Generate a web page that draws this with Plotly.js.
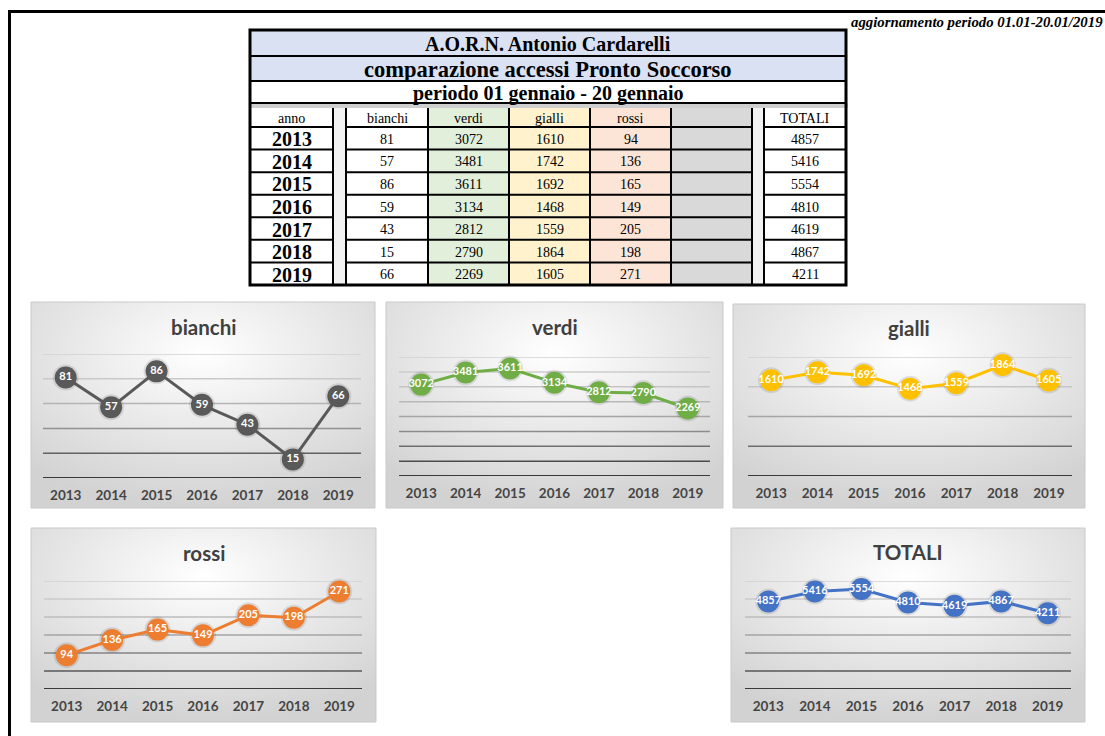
<!DOCTYPE html>
<html><head><meta charset="utf-8">
<script src="https://cdn.plot.ly/plotly-3.0.1.min.js"></script>
<style>html,body{margin:0;padding:0;background:#fff;}#chart{width:1105px;height:736px;}</style>
</head><body><div id="chart"></div>
<script>
// ---------- data ----------
const years   = ['2013','2014','2015','2016','2017','2018','2019'];
const bianchi = [81, 57, 86, 59, 43, 15, 66];
const verdi   = [3072, 3481, 3611, 3134, 2812, 2790, 2269];
const gialli  = [1610, 1742, 1692, 1468, 1559, 1864, 1605];
const rossi   = [94, 136, 165, 149, 205, 198, 271];
const totali  = [4857, 5416, 5554, 4810, 4619, 4867, 4211];
const tableHeaders = ['anno', '', 'bianchi', 'verdi', 'gialli', 'rossi', '', '', 'TOTALI'];
const titleLines = ['A.O.R.N. Antonio Cardarelli', 'comparazione accessi Pronto Soccorso', 'periodo 01 gennaio - 20 gennaio'];
const updateNote = 'aggiornamento periodo 01.01-20.01/2019';
const chartNames = ['bianchi', 'verdi', 'gialli', 'rossi', 'TOTALI'];

// ---------- page geometry helpers ----------
const W = 1105, H = 736;
const px = x => x / W;
const py = y => 1 - y / H;

const shapes = [], annotations = [], images = [], traces = [];
const layout = {
  width: W, height: H, margin: {l: 0, r: 0, t: 0, b: 0},
  paper_bgcolor: '#ffffff', plot_bgcolor: 'rgba(0,0,0,0)',
  showlegend: false, hovermode: false
};

// outer frame
shapes.push({type: 'line', xref: 'paper', yref: 'paper', x0: px(8), x1: px(1105), y0: py(11.5), y1: py(11.5), line: {color: '#000', width: 3}});
shapes.push({type: 'line', xref: 'paper', yref: 'paper', x0: px(9.5), x1: px(9.5), y0: py(10), y1: py(736), line: {color: '#000', width: 3}});

annotations.push({text: updateNote, xref: 'paper', yref: 'paper', x: px(1105), y: py(22), xanchor: 'right', yanchor: 'middle', showarrow: false,
  font: {family: 'Liberation Serif', size: 14.8, color: '#000', weight: 'bold', style: 'italic'}});

// ---------- table ----------
const colEdges = [250, 333, 346, 428, 509, 590, 671, 752, 764, 846];
const colFills = ['#ffffff', '#f2f2f2', '#ffffff', '#e2efda', '#fff2cc', '#fce4d6', '#d9d9d9', '#f2f2f2', '#ffffff'];
const narrowCols = [1, 7];
const tableCols = [years, null, bianchi, verdi, gialli, rossi, null, null, totali];
const tLeft = 250, tRight = 846, tTop = 30, tBottom = 285;
const titleEdges = [30, 56, 81, 103];
const titleFills = ['#d9e1f2', '#d9e1f2', '#ffffff'];
const titleSizes = [20, 22.5, 20];
const headTop = 108, headBottom = 127;
const rowH = (tBottom - headBottom) / years.length;

function rect(x0, y0, x1, y1, fill, line) {
  shapes.push({type: 'rect', xref: 'paper', yref: 'paper', x0: px(x0), x1: px(x1), y0: py(y1), y1: py(y0),
    fillcolor: fill, line: line || {width: 0}, layer: 'above'});
}
function hline(x0, x1, y, w, c) {
  shapes.push({type: 'line', xref: 'paper', yref: 'paper', x0: px(x0), x1: px(x1), y0: py(y), y1: py(y), line: {color: c || '#000', width: w}});
}
function vline(x, y0, y1, w) {
  shapes.push({type: 'line', xref: 'paper', yref: 'paper', x0: px(x), x1: px(x), y0: py(y0), y1: py(y1), line: {color: '#000', width: w}});
}

titleLines.forEach((t, i) => {
  rect(tLeft, titleEdges[i], tRight, titleEdges[i + 1], titleFills[i]);
  annotations.push({text: t, xref: 'paper', yref: 'paper', x: px((tLeft + tRight) / 2), y: py((titleEdges[i] + titleEdges[i + 1]) / 2 + 1),
    xanchor: 'center', yanchor: 'middle', showarrow: false,
    font: {family: 'Liberation Serif', size: titleSizes[i], color: '#000', weight: 'bold'}});
});
rect(tLeft, 103, tRight + 2, headTop, '#cfcfcf');
for (let c = 0; c < colFills.length; c++) rect(colEdges[c], headTop, colEdges[c + 1], tBottom, colFills[c]);
hline(tLeft, tRight, 56, 2); hline(tLeft, tRight, 81, 2); hline(tLeft, tRight, 103, 2);
const rowLines = [headBottom];
for (let r = 1; r < years.length; r++) rowLines.push(headBottom + r * rowH);
rowLines.forEach(y => {
  for (let c = 0; c < colFills.length; c++) {
    if (narrowCols.includes(c)) continue;
    hline(colEdges[c], colEdges[c + 1], y, 2);
  }
});
colEdges.slice(1, -1).forEach(x => vline(x, headTop, tBottom, 2));
rect(tLeft, tTop, tRight, tBottom, 'rgba(0,0,0,0)', {color: '#000', width: 3});

tableHeaders.forEach((h, c) => {
  if (!h) return;
  annotations.push({text: h, xref: 'paper', yref: 'paper', x: px((colEdges[c] + colEdges[c + 1]) / 2), y: py((headTop + headBottom) / 2 + 1),
    xanchor: 'center', yanchor: 'middle', showarrow: false, font: {family: 'Liberation Serif', size: 14, color: '#000'}});
});
tableCols.forEach((col, c) => {
  if (!col) return;
  col.forEach((v, r) => {
    const yc = headBottom + (r + 0.5) * rowH;
    annotations.push({text: String(v), xref: 'paper', yref: 'paper', x: px((colEdges[c] + colEdges[c + 1]) / 2), y: py(yc + 1),
      xanchor: 'center', yanchor: 'middle', showarrow: false,
      font: c === 0 ? {family: 'Liberation Serif', size: 20, color: '#000', weight: 'bold'}
                    : {family: 'Liberation Serif', size: 14, color: '#000'}});
  });
});

// ---------- charts ----------
const panelSvg = 'data:image/svg+xml;charset=utf-8,' + encodeURIComponent(
  "<svg xmlns='http://www.w3.org/2000/svg' width='100' height='100' viewBox='0 0 100 100' preserveAspectRatio='none'>" +
  "<defs><radialGradient id='g' cx='50%' cy='25%' r='75%'><stop offset='0' stop-color='#ffffff'/><stop offset='1' stop-color='#d2d2d2'/></radialGradient></defs>" +
  "<rect x='0' y='0' width='100' height='100' fill='url(#g)'/></svg>");

const chartSeries = [bianchi, verdi, gialli, rossi, totali];
const chartStyle = [
  {color: '#595959', dtick: 20,   max: 100,  plot: [43, 361, 354, 478],  panel: [31, 302, 375, 508],  titleY: 327},
  {color: '#70ad47', dtick: 500,  max: 4000, plot: [399, 710, 357, 476], panel: [386, 302, 723, 508], titleY: 327},
  {color: '#ffc000', dtick: 500,  max: 2000, plot: [748, 1072, 357, 476], panel: [733, 304, 1085, 508], titleY: 328},
  {color: '#ed7d31', dtick: 50,   max: 300,  plot: [44, 362, 581, 689],  panel: [31, 528, 376, 722],  titleY: 553},
  {color: '#4472c4', dtick: 1000, max: 6000, plot: [745, 1071, 581, 689], panel: [731, 528, 1085, 722], titleY: 552}
];

function mix(a, b, t) {
  const pa = [1, 3, 5].map(i => parseInt(a.substr(i, 2), 16));
  const pb = [1, 3, 5].map(i => parseInt(b.substr(i, 2), 16));
  return 'rgb(' + pa.map((v, i) => Math.round(v + (pb[i] - v) * t)).join(',') + ')';
}

chartNames.forEach((name, i) => {
  const s = chartStyle[i], vals = chartSeries[i];
  const n = i + 1, xa = 'x' + n, ya = 'y' + n;
  const [p0, p1, q0, q1] = s.plot;
  const [b0, c0, b1, c1] = s.panel;
  images.push({source: panelSvg, xref: 'paper', yref: 'paper', x: px(b0), y: py(c0), sizex: px(b1) - px(b0), sizey: (c1 - c0) / H,
    xanchor: 'left', yanchor: 'top', sizing: 'stretch', layer: 'below'});
  shapes.push({type: 'rect', xref: 'paper', yref: 'paper', x0: px(b0), x1: px(b1), y0: py(c1), y1: py(c0),
    line: {color: '#c9c9c9', width: 1}, fillcolor: 'rgba(0,0,0,0)', layer: 'below'});
  layout['xaxis' + (n === 1 ? '' : n)] = {domain: [px(p0), px(p1)], anchor: ya, type: 'category', range: [-0.5, years.length - 0.5],
    showgrid: false, zeroline: false, showline: false, ticks: 'outside', ticklen: 5, tickcolor: 'rgba(0,0,0,0)',
    tickfont: {family: 'Lato', size: 13.5, color: '#454545', weight: 'bold'}, fixedrange: true};
  layout['yaxis' + (n === 1 ? '' : n)] = {domain: [py(q1), py(q0)], anchor: xa, range: [0, s.max],
    showgrid: false, zeroline: false, showline: false, showticklabels: false, fixedrange: true};
  const nLines = Math.round(s.max / s.dtick);
  for (let k = 0; k <= nLines; k++) {
    const t = 1 - k / nLines;
    shapes.push({type: 'line', xref: xa + ' domain', yref: ya, x0: 0, x1: 1, y0: k * s.dtick, y1: k * s.dtick,
      line: {color: k === 0 ? '#3a3a3a' : mix('#d0d0d0', '#222222', t * t), width: k === 0 ? 2 : 1.5}, layer: 'below'});
  }
  annotations.push({text: name, xref: 'paper', yref: 'paper', x: px((b0 + b1) / 2), y: py(s.titleY), xanchor: 'center', yanchor: 'middle',
    showarrow: false, font: {family: 'Lato', size: 20.5, color: '#404040', weight: 'bold'}});
  traces.push({type: 'scatter', x: years, y: vals, xaxis: xa, yaxis: ya, mode: 'markers', cliponaxis: false,
    marker: {size: 26, color: 'rgba(0,0,0,0.10)'}, hoverinfo: 'skip'});
  traces.push({type: 'scatter', x: years, y: vals, xaxis: xa, yaxis: ya, mode: 'lines+markers+text', cliponaxis: false,
    line: {color: s.color, width: 3}, marker: {size: 22, color: s.color, line: {width: 0}},
    text: vals.map(String), textposition: 'middle center',
    textfont: {family: 'Lato', size: 11, color: '#ffffff', weight: 'bold'}});
});

layout.shapes = shapes;
layout.annotations = annotations;
layout.images = images;
Plotly.newPlot('chart', traces, layout, {staticPlot: true, displayModeBar: false});
</script>
</body></html>
